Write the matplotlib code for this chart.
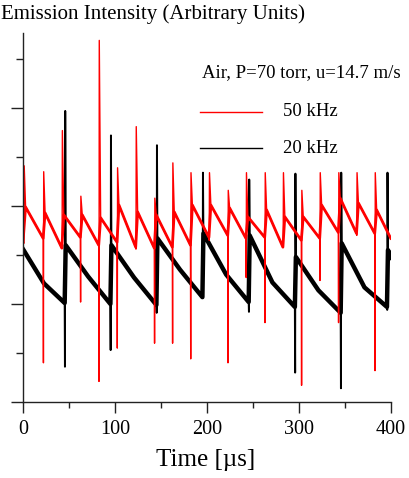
import numpy as np
import matplotlib
matplotlib.use("Agg")
import matplotlib.pyplot as plt
from matplotlib.ticker import MultipleLocator, NullFormatter

plt.rcParams["font.family"] = ["Liberation Serif", "DejaVu Serif"]

# 50 kHz trace (red): pulse times, pulse peak / dip, level after and before each pulse
red_t = [1.0, 22.2, 42.5, 62.6, 82.6, 102.5, 122.8, 143.0, 162.6, 182.3,
         202.4, 222.8, 242.6, 263.0, 282.8, 302.8, 322.8, 343.0, 362.8, 382.6]
red_top = [2.41, 2.35, 2.77, 2.10, 3.69, 2.39, 2.81, 2.08, 2.44, 2.34,
           2.34, 2.16, 2.34, 2.34, 2.34, 2.16, 2.34, 2.34, 2.34, 2.34]
red_low = [1.62, 0.40, 1.60, 1.02, 0.21, 0.55, 1.56, 0.60, 0.60, 0.44,
           1.65, 0.40, 1.27, 0.81, 1.62, 0.17, 1.24, 0.81, 1.70, 0.32]
red_start = [1.99, 1.93, 1.91, 1.91, 1.88, 2.01, 1.94, 1.91, 1.94, 2.01,
             2.01, 1.98, 1.89, 1.96, 1.89, 1.89, 2.01, 2.08, 2.03, 1.96]
red_end = [1.67, 1.57, 1.68, 1.60, 1.63, 1.58, 1.57, 1.58, 1.60, 1.68,
           1.70, 1.67, 1.68, 1.58, 1.65, 1.67, 1.73, 1.72, 1.72, 1.67]
red_first = 1.63

# 20 kHz trace (black): one start/mid/end level per interval between pulses
blk_t = [45.6, 95.3, 145.3, 195.3, 245.6, 295.8, 345.6, 395.9]
blk_top = [2.97, 2.72, 2.62, 2.34, 2.27, 2.33, 2.34, 2.34]
blk_low = [0.36, 0.53, 0.91, 1.06, 0.92, 0.30, 0.14, 0.94]
blk_start = [1.56, 1.60, 1.60, 1.67, 1.72, 1.70, 1.48, 1.62, 1.55]
blk_mid = [1.21, 1.28, 1.27, 1.35, 1.30, 1.22, 1.14, 1.17, 1.52]
blk_end = [1.01, 1.00, 0.99, 1.07, 1.02, 0.97, 0.91, 0.97, 1.47]

t_end = 400.0


def red_path():
    xs, ys = [0.0], [red_first]
    bx, by = [0.0], [red_first]
    for i, t in enumerate(red_t):
        nxt = red_t[i + 1] if i + 1 < len(red_t) else t_end
        xs += [t, t + 0.3, t + 1.8, nxt - 0.3]
        ys += [red_low[i], red_top[i], red_start[i], red_end[i]]
        bx += [t + 1.8, nxt - 0.3]
        by += [red_start[i], red_end[i]]
    return xs, ys, bx, by


def blk_path():
    edges = [0.0] + blk_t + [t_end]
    xs, ys, bx, by = [], [], [], []
    for i in range(len(edges) - 1):
        a, b = edges[i], edges[i + 1]
        if i > 0:
            xs += [a, a + 0.3]
            ys += [blk_low[i - 1], blk_top[i - 1]]
        a0 = a + 0.8 if i > 0 else a
        seg_x = [a0, (a0 + b) / 2, b - 0.3]
        seg_y = [blk_start[i], blk_mid[i], blk_end[i]]
        xs += seg_x
        ys += seg_y
        bx += seg_x
        by += seg_y
    return xs, ys, bx, by


fig = plt.figure(figsize=(4.09, 4.78), dpi=100)
ax = fig.add_axes([23 / 409, 1 - 402 / 478, 368 / 409, 369 / 478])

kx, ky, kbx, kby = blk_path()
ax.plot(kx, ky, color="black", lw=1.4)
ax.plot(kbx, kby, color="black", lw=3.2, solid_joinstyle="round")

rx, ry, rbx, rby = red_path()
ax.plot(rx, ry, color="#ff0000", lw=1.0)
ax.plot(rbx, rby, color="#ff0000", lw=2.0, solid_joinstyle="round")

ax.set_xlim(0, 400)
ax.set_ylim(0, 369 / 98)

for s in ["top", "right"]:
    ax.spines[s].set_visible(False)
for s in ["left", "bottom"]:
    ax.spines[s].set_color("#222222")
    ax.spines[s].set_linewidth(1.0)

ax.xaxis.set_major_locator(MultipleLocator(100))
ax.xaxis.set_minor_locator(MultipleLocator(50))
ax.yaxis.set_major_locator(MultipleLocator(1))
ax.yaxis.set_minor_locator(MultipleLocator(0.5))
ax.yaxis.set_major_formatter(NullFormatter())
ax.tick_params(which="both", direction="out", color="#222222", width=1.0)
ax.tick_params(axis="x", which="major", length=8, pad=5, labelsize=14.5)
ax.tick_params(axis="x", which="minor", length=4.2)
ax.tick_params(axis="y", which="major", length=8.6)
ax.tick_params(axis="y", which="minor", length=5)

ax.set_xlabel("Time [\u00b5s]", fontsize=18)
ax.xaxis.set_label_coords(0.497, -0.157)
ax.xaxis.label.set_verticalalignment("center")

fig.text(1 / 409, 1 - 14 / 478, "Emission Intensity (Arbitrary Units)",
         fontsize=15, ha="left", va="center")

ax.text(0.486, 0.892, "Air, P=70 torr, u=14.7 m/s", transform=ax.transAxes,
        fontsize=13.5, ha="left", va="center")
ax.plot([0.482, 0.65], [0.786, 0.786], transform=ax.transAxes,
        color="#ff0000", lw=1.0)
ax.text(0.707, 0.786, "50 kHz", transform=ax.transAxes,
        fontsize=13.5, ha="left", va="center")
ax.plot([0.482, 0.65], [0.688, 0.688], transform=ax.transAxes,
        color="black", lw=1.0)
ax.text(0.707, 0.688, "20 kHz", transform=ax.transAxes,
        fontsize=13.5, ha="left", va="center")

fig.savefig("out.png", dpi=100)
